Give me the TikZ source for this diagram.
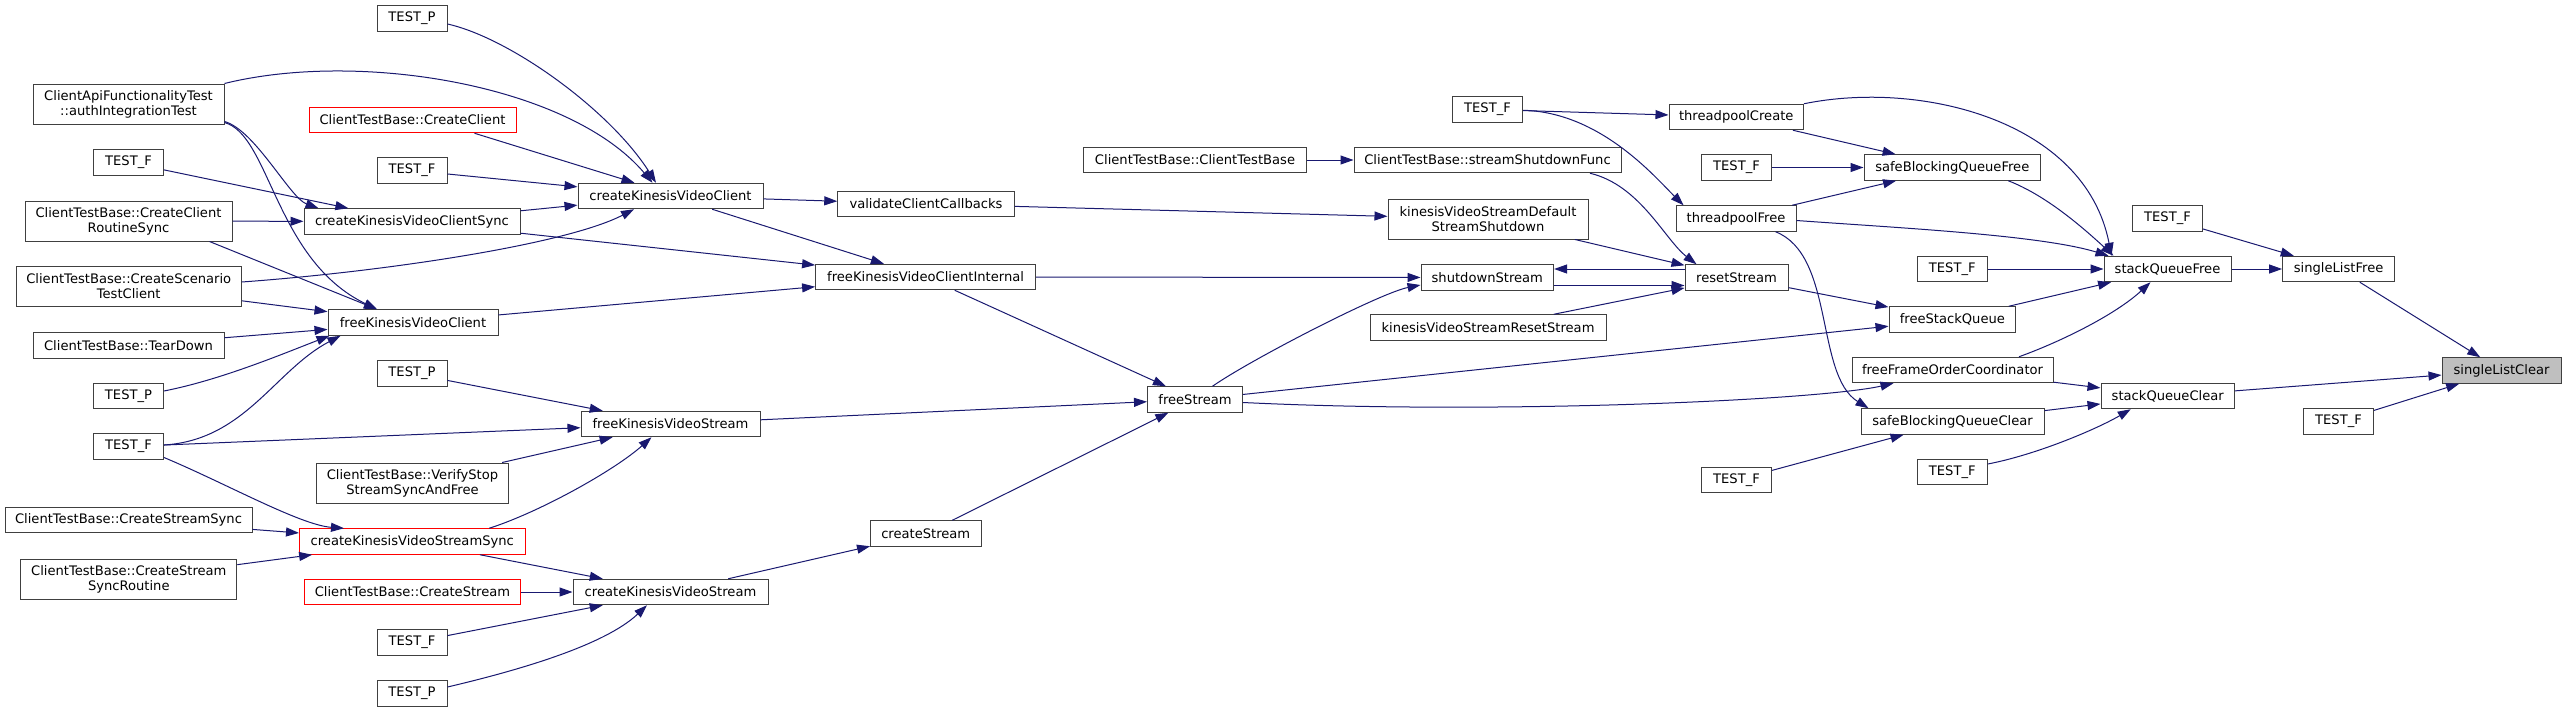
\documentclass[tikz,border=0pt]{standalone}
\usepackage{fontspec}
\setmainfont{DejaVu Sans}
\usetikzlibrary{arrows.meta,calc}
\definecolor{edgeblue}{HTML}{191970}
\definecolor{nodegrey}{HTML}{404040}
\definecolor{hlgrey}{HTML}{BFBFBF}
\tikzset{
  fn/.style={draw=nodegrey, fill=white, line width=1pt, inner sep=0pt, align=center,
    font=\fontsize{13.1}{15}\selectfont},
  trunc/.style={fn, draw=red},
  hl/.style={fn, fill=hlgrey},
  one/.style={minimum height=25.5pt},
  two/.style={minimum height=40pt},
  tst/.style={fn, one, minimum width=70pt},
  call/.style={draw=edgeblue, line width=1pt, -{Triangle[length=13pt,width=9pt]}}
}
\begin{document}
\begin{tikzpicture}[x=1pt,y=-1pt]
\useasboundingbox (0,0) rectangle (2567,712);
\fill[white] (0,0) rectangle (2567,712);
% column 1
\node[fn,two,minimum width=191pt] (authTest) at (128.5,104) {ClientApiFunctionalityTest\\::authIntegrationTest};
\node[tst] (tfA) at (128.5,162.5) {TEST\_F};
\node[fn,two,minimum width=207pt] (crs) at (128.5,221) {ClientTestBase::CreateClient\\RoutineSync};
\node[fn,two,minimum width=225pt] (cstc) at (128.75,286.5) {ClientTestBase::CreateScenario\\TestClient};
\node[fn,one,minimum width=191pt] (td) at (128.5,345.5) {ClientTestBase::TearDown};
\node[tst] (tpA) at (128.5,396) {TEST\_P};
\node[tst] (tfB) at (128.5,446.5) {TEST\_F};
\node[fn,one,minimum width=247pt] (css) at (128.5,520) {ClientTestBase::CreateStreamSync};
\node[fn,two,minimum width=216pt] (cssr) at (128.8,579) {ClientTestBase::CreateStream\\SyncRoutine};
% column 2
\node[tst] (tpB) at (412,18.5) {TEST\_P};
\node[trunc,one,minimum width=207pt] (cc) at (412.5,120) {ClientTestBase::CreateClient};
\node[tst] (tfC) at (412,170.5) {TEST\_F};
\node[fn,one,minimum width=216pt] (ckvcs) at (412,221.5) {createKinesisVideoClientSync};
\node[fn,one,minimum width=170pt] (fkvc) at (413,322.5) {freeKinesisVideoClient};
\node[tst] (tpC) at (412,373.5) {TEST\_P};
\node[fn,two,minimum width=192pt] (vss) at (412.5,483) {ClientTestBase::VerifyStop\\StreamSyncAndFree};
\node[trunc,one,minimum width=225.5pt] (ckvss) at (412.25,541.5) {createKinesisVideoStreamSync};
\node[trunc,one,minimum width=216pt] (cs) at (412.5,592) {ClientTestBase::CreateStream};
\node[tst] (tfD) at (412,642.5) {TEST\_F};
\node[tst] (tpD) at (412,693.5) {TEST\_P};
% column 3
\node[fn,one,minimum width=185pt] (ckvc) at (670.5,196) {createKinesisVideoClient};
\node[fn,one,minimum width=179pt] (fkvs) at (670.5,424) {freeKinesisVideoStream};
\node[fn,one,minimum width=195pt] (ckvst) at (670.5,592) {createKinesisVideoStream};
% column 4
\node[fn,one,minimum width=176.5pt] (vcc) at (926,204) {validateClientCallbacks};
\node[fn,one,minimum width=220pt] (fkvci) at (925.6,277) {freeKinesisVideoClientInternal};
\node[fn,one,minimum width=110.5pt] (cst) at (925.75,533.5) {createStream};
% column 5
\node[fn,one,minimum width=223pt] (ctb) at (1195,160) {ClientTestBase::ClientTestBase};
\node[fn,one,minimum width=95pt] (fs) at (1195,399.5) {freeStream};
% column 6
\node[tst] (tfE) at (1487.5,109.5) {TEST\_F};
\node[fn,one,minimum width=267pt] (ssf) at (1487.5,160) {ClientTestBase::streamShutdownFunc};
\node[fn,two,minimum width=200pt] (kvsdss) at (1488,219) {kinesisVideoStreamDefault\\StreamShutdown};
\node[fn,one,minimum width=132.6pt] (shs) at (1487.3,277.5) {shutdownStream};
\node[fn,one,minimum width=236pt] (kvsrs) at (1488,327.5) {kinesisVideoStreamResetStream};
% column 7
\node[fn,one,minimum width=134.5pt] (tpc) at (1736.25,117) {threadpoolCreate};
\node[tst] (tfF) at (1736.5,167.5) {TEST\_F};
\node[fn,one,minimum width=120pt] (tpf) at (1736,218.5) {threadpoolFree};
\node[fn,one,minimum width=103pt] (rs) at (1736.5,277.5) {resetStream};
\node[tst] (tfG) at (1736.5,480) {TEST\_F};
% column 8
\node[fn,one,minimum width=176.5pt] (sbqf) at (1952.25,167.5) {safeBlockingQueueFree};
\node[tst] (tfH) at (1952.25,269) {TEST\_F};
\node[fn,one,minimum width=126.7pt] (fsq) at (1952.35,319.5) {freeStackQueue};
\node[fn,one,minimum width=201pt] (ffoc) at (1952.5,370) {freeFrameOrderCoordinator};
\node[fn,one,minimum width=183pt] (sbqc) at (1952.5,421.5) {safeBlockingQueueClear};
\node[tst] (tfI) at (1952.25,472) {TEST\_F};
% column 9
\node[tst] (tfJ) at (2167.5,218.5) {TEST\_F};
\node[fn,one,minimum width=127pt] (sqf) at (2167.5,269) {stackQueueFree};
\node[fn,one,minimum width=133.5pt] (sqc) at (2167.75,396) {stackQueueClear};
% column 10
\node[fn,one,minimum width=112pt] (slf) at (2338.6,269) {singleListFree};
\node[tst] (tfK) at (2338.5,421.5) {TEST\_F};
% column 11
\node[hl,one,minimum width=119pt] (slc) at (2501.5,370.5) {singleListClear};

% straight edges
\draw[call] (slf) -- (slc);
\draw[call] (sqc) -- (slc);
\draw[call] (tfK) -- (slc);
\draw[call] (sqf) -- (slf);
\draw[call] (tfJ) -- (slf);
\draw[call] (tfH) -- (sqf);
\draw[call] (fsq) -- (sqf);
\draw[call] (ffoc) -- (sqc);
\draw[call] (sbqc) -- (sqc);
\draw[call] (tpc) -- (sbqf);
\draw[call] (tfF) -- (sbqf);
\draw[call] (tpf) -- (sbqf);
\draw[call] (rs) -- (fsq);
\draw[call] (fs) -- (fsq);
\draw[call] (tfG) -- (sbqc);
\draw[call] (tfE) -- (tpc);
\draw[call] (kvsdss) -- (rs);
\draw[call] (kvsrs) -- (rs);
\draw[call] ($(shs.east)+(0,8)$) -- ($(rs.west)+(0,8)$);
\draw[call] ($(rs.west)+(0,-8.5)$) -- ($(shs.east)+(0,-8.5)$);
\draw[call] (fkvci) -- (shs);
\draw[call] (ctb) -- (ssf);
\draw[call] (vcc) -- (kvsdss);
\draw[call] (fkvci) -- (fs);
\draw[call] (fkvs) -- (fs);
\draw[call] (cst) -- (fs);
\draw[call] (ckvc) -- (fkvci);
\draw[call] (ckvcs) -- (fkvci);
\draw[call] (fkvc) -- (fkvci);
\draw[call] (ckvc) -- (vcc);
\draw[call] (ckvst) -- (cst);
\draw[call] ($(cc.south)+(62,0)$) -- ($(ckvc.north)+(-36,0)$);
\draw[call] (tfC) -- (ckvc);
\draw[call] (ckvcs) -- (ckvc);
\draw[call] (tfA) -- (ckvcs);
\draw[call] (crs) -- (ckvcs);
\draw[call] ($(crs.south)+(81,0)$) -- ($(fkvc.north)+(-36,0)$);
\draw[call] (cstc) -- (fkvc);
\draw[call] (td) -- (fkvc);
\draw[call] (tpC) -- (fkvs);
\draw[call] (tfB) -- (fkvs);
\draw[call] (vss) -- (fkvs);
\draw[call] (css) -- (ckvss);
\draw[call] (cssr) -- (ckvss);
\draw[call] (ckvss) -- (ckvst);
\draw[call] (cs) -- (ckvst);
\draw[call] (tfD) -- (ckvst);

% curved edges
\draw[call] (tfE) .. controls (1600,112) and (1655,177) .. ($(tpf.north west)+(8,0)$);
\draw[call] ($(ssf.south)+(102.5,0)$) .. controls (1640,185) and (1665,240) .. ($(rs.north)+(-40,0)$);
\draw[call] ($(fs.north)+(17.5,0)$) .. controls (1250,360) and (1380,293) .. ($(shs.west)+(0,7.5)$);
\draw[call] ($(fs.east)+(0,3)$) .. controls (1500,415) and (1820,400) .. ($(ffoc.south west)+(42,0)$);
\draw[call] ($(tpf.south)+(39.5,0)$) .. controls (1835,255) and (1815,375) .. ($(sbqc.north west)+(8,0)$);
\draw[call] (tpc.north east) .. controls (1920,80) and (2085,120) .. ($(sqf.north west)+(8,0)$);
\draw[call] ($(sbqf.south)+(56,0)$) .. controls (2045,195) and (2080,225) .. ($(sqf.north west)+(10,0)$);
\draw[call] ($(tpf.east)+(0,2)$) .. controls (1900,228) and (2040,235) .. ($(sqf.north west)+(5,0)$);
\draw[call] ($(ffoc.north)+(66.5,0)$) .. controls (2060,342) and (2115,315) .. ($(sqf.south)+(-17,0)$);
\draw[call] ($(tfI.east)+(0,-8)$) .. controls (2035,455) and (2095,430) .. ($(sqc.south)+(-37,0)$);
\draw[call] ($(tpB.east)+(0,5.5)$) .. controls (510,38) and (610,110) .. ($(ckvc.north)+(-14.5,0)$);
\draw[call] (authTest.north east) .. controls (360,50) and (570,85) .. ($(ckvc.north)+(-18,0)$);
\draw[call] ($(cstc.east)+(0,-4.5)$) .. controls (380,272) and (565,245) .. ($(ckvc.south)+(-36.5,0)$);
\draw[call] ($(authTest.south east)+(0,-3)$) .. controls (255,130) and (290,198) .. ($(ckvcs.north west)+(15,0)$);
\draw[call] ($(authTest.south east)+(0,-2)$) .. controls (270,135) and (275,260) .. ($(fkvc.north)+(-36,0)$);
\draw[call] ($(tpA.east)+(0,-5)$) .. controls (220,380) and (280,355) .. ($(fkvc.south west)+(2,0)$);
\draw[call] ($(tfB.east)+(0,-1.5)$) .. controls (245,440) and (275,370) .. ($(fkvc.south west)+(13,0)$);
\draw[call] ($(tfB.east)+(0,11)$) .. controls (225,483) and (300,525) .. ($(ckvss.north west)+(45,0)$);
\draw[call] ($(ckvss.north)+(77,0)$) .. controls (540,512) and (615,470) .. ($(fkvs.south)+(-19,0)$);
\draw[call] ($(tpD.east)+(0,-6.5)$) .. controls (520,670) and (605,645) .. ($(ckvst.south)+(-23.5,0)$);
\end{tikzpicture}
\end{document}
